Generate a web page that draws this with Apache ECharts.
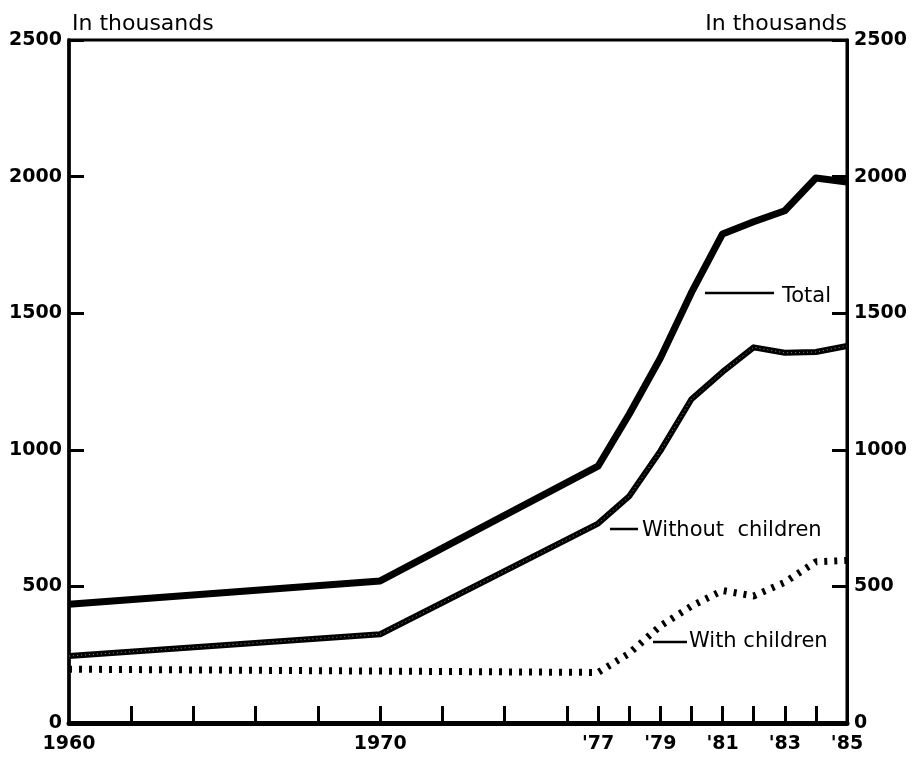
<!DOCTYPE html>
<html><head><meta charset="utf-8">
<script src="https://cdn.jsdelivr.net/npm/echarts@6/dist/echarts.min.js"></script>
<style>html,body{margin:0;padding:0;background:#fff}#c{width:917px;height:760px}</style>
</head><body><div id="c"></div>
<script>
// Categories (every year on the axis)
const years = ['1960','1961','1962','1963','1964','1965','1966','1967','1968','1969','1970','1971','1972','1973','1974','1975','1976','1977','1978','1979','1980','1981','1982','1983','1984','1985'];
// Years with observed data points
const dataYears = [1960, 1970, 1977, 1978, 1979, 1980, 1981, 1982, 1983, 1984, 1985];
const totalValues = [435, 520, 940, 1130, 1335, 1575, 1790, 1835, 1875, 1995, 1980];
const withoutChildrenValues = [245, 325, 730, 830, 995, 1185, 1285, 1375, 1355, 1358, 1380];
const withChildrenValues = [197, 190, 185, 255, 355, 428, 485, 465, 515, 590, 595];
// Axis ticks / labels
const xTickYears = [1962, 1964, 1966, 1968, 1970, 1972, 1974, 1976, 1977, 1978, 1979, 1980, 1981, 1982, 1983, 1984];
const xLabelYears = [1960, 1970, 1977, 1979, 1981, 1983, 1985];
const xLabelTexts = ['1960', '1970', "'77", "'79", "'81", "'83", "'85"];
const yTicks = [0, 500, 1000, 1500, 2000, 2500];

function toSeries(vals) {
  return years.map(y => {
    const i = dataYears.indexOf(+y);
    return i >= 0 ? vals[i] : null;
  });
}

const FONT = 'DejaVu Sans';
const chart = echarts.init(document.getElementById('c'), null, {renderer: 'canvas'});

const yAxisCommon = {
  type: 'value', min: 0, max: 2500, interval: 500,
  splitLine: {show: false},
  axisTick: {show: true, inside: true, length: 15, lineStyle: {color: '#000', width: 3}},
  axisLabel: {color: '#000', fontFamily: FONT, fontSize: 19, fontWeight: 'bold', margin: 7,
    formatter: v => yTicks.indexOf(v) >= 0 ? String(v) : ''},
  name: 'In thousands',
  nameLocation: 'end',
  nameGap: 5,
};

chart.setOption({
  animation: false,
  backgroundColor: '#fff',
  grid: {left: 69, right: 70, top: 40, bottom: 37, show: true, borderColor: '#000', borderWidth: 3},
  xAxis: {
    type: 'category', data: years, boundaryGap: false,
    axisLine: {onZero: false, lineStyle: {color: '#000', width: 5}},
    axisTick: {show: true, inside: true, length: 17, alignWithLabel: true,
      interval: (i, v) => xTickYears.indexOf(+v) >= 0,
      lineStyle: {color: '#000', width: 3}},
    axisLabel: {color: '#000', fontFamily: FONT, fontSize: 19, fontWeight: 'bold', margin: 12,
      interval: (i, v) => xLabelYears.indexOf(+v) >= 0,
      formatter: v => { const i = xLabelYears.indexOf(+v); return i >= 0 ? xLabelTexts[i] : ''; }},
    splitLine: {show: false}
  },
  yAxis: [
    Object.assign({}, yAxisCommon, {position: 'left',
      axisLine: {show: true, lineStyle: {color: '#000', width: 3.5}},
      nameTextStyle: {color: '#000', fontFamily: FONT, fontSize: 22, align: 'left', padding: [0, 0, 0, 3]}}),
    Object.assign({}, yAxisCommon, {position: 'right',
      axisLine: {show: true, lineStyle: {color: '#000', width: 3}},
      nameTextStyle: {color: '#000', fontFamily: FONT, fontSize: 22, align: 'right'}})
  ],
  series: [
    {name: 'Total', type: 'line', data: toSeries(totalValues), connectNulls: true, symbol: 'none', silent: true,
      lineStyle: {color: '#000', width: 7, join: 'round'}, z: 5},
    {name: 'Without children', type: 'line', data: toSeries(withoutChildrenValues), connectNulls: true, symbol: 'none', silent: true,
      lineStyle: {color: '#000', width: 6, join: 'round'}, z: 4},
    {name: 'Without children texture', type: 'line', data: toSeries(withoutChildrenValues), connectNulls: true, symbol: 'none', silent: true,
      lineStyle: {color: '#fff', width: 1, type: [1, 3], opacity: 0.55}, z: 4.5},
    {name: 'With children', type: 'line', data: toSeries(withChildrenValues), connectNulls: true, symbol: 'none', silent: true,
      lineStyle: {color: '#000', width: 7, type: [3, 7], cap: 'butt'}, z: 3}
  ],
  graphic: [
    {type: 'line', shape: {x1: 705, y1: 293, x2: 774, y2: 293}, style: {stroke: '#000', lineWidth: 2.5}},
    {type: 'text', x: 782, y: 297, style: {text: 'Total', fill: '#000', font: '21px "DejaVu Sans"', verticalAlign: 'middle', align: 'left'}},
    {type: 'line', shape: {x1: 610, y1: 529, x2: 638, y2: 529}, style: {stroke: '#000', lineWidth: 2.5}},
    {type: 'text', x: 642, y: 531, style: {text: 'Without  children', fill: '#000', font: '21px "DejaVu Sans"', verticalAlign: 'middle', align: 'left'}},
    {type: 'line', shape: {x1: 653, y1: 642, x2: 687, y2: 642}, style: {stroke: '#000', lineWidth: 2.5}},
    {type: 'text', x: 689, y: 642, style: {text: 'With children', fill: '#000', font: '21px "DejaVu Sans"', verticalAlign: 'middle', align: 'left'}}
  ]
});
</script>
</body></html>
